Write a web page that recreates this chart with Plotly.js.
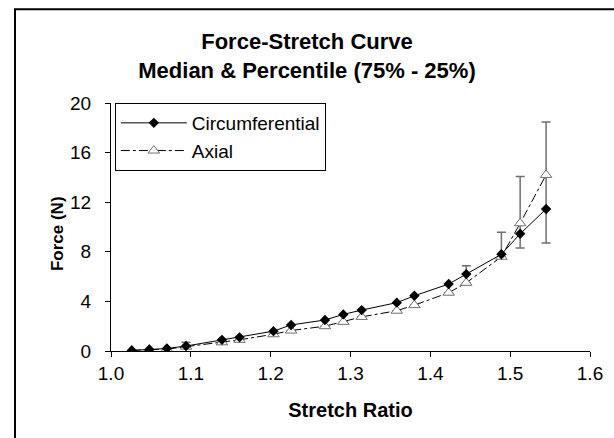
<!DOCTYPE html>
<html>
<head>
<meta charset="utf-8">
<script src="https://cdn.plot.ly/plotly-3.0.1.min.js"></script>
<style>html,body{margin:0;padding:0;background:#fff;}#chart{width:614px;height:438px;}</style>
</head>
<body>
<div id="chart"></div>
<script>
// Stretch ratio (shared by both series)
const stretch = [1.026, 1.048, 1.070, 1.094, 1.139, 1.161, 1.2035, 1.2256, 1.268, 1.291, 1.314, 1.358, 1.380, 1.423, 1.445, 1.489, 1.5125, 1.545];
// Median force (N)
const circForce = [0.05, 0.12, 0.2, 0.4, 0.9, 1.1, 1.6, 2.1, 2.5, 2.95, 3.3, 3.9, 4.45, 5.4, 6.2, 7.8, 9.45, 11.45];
const axialForce = [0.05, 0.1, 0.15, 0.35, 0.7, 0.9, 1.35, 1.65, 2.0, 2.35, 2.75, 3.25, 3.7, 4.7, 5.5, 7.6, 10.3, 14.2];
// Percentile spread (75% above, 25% below) drawn as error bars
const spreadPlus = [0, 0, 0, 0.36, 0, 0, 0, 0, 0, 0, 0, 0, 0, 0, 1.38, 1.97, 3.77, 4.27];
const spreadMinus = [0, 0, 0, 0, 0, 0, 0, 0, 0, 0, 0, 0, 0, 0, 0, 0, 1.99, 5.49];

const seriesNames = ['Circumferential', 'Axial'];

const font = 'Liberation Sans, Arial, sans-serif';

const traces = [
  {
    x: stretch, y: axialForce, name: seriesNames[1], type: 'scatter', mode: 'lines+markers',
    line: {color: '#000', width: 1, dash: 'dashdot'},
    marker: {symbol: 'triangle-up', size: 10, color: '#fff', line: {width: 1, color: '#707070'}},
    error_y: {type: 'data', symmetric: false, array: spreadPlus, arrayminus: spreadMinus,
      color: '#707070', thickness: 1.5, width: 4.5},
    showlegend: false
  },
  {
    x: stretch, y: circForce, name: seriesNames[0], type: 'scatter', mode: 'lines+markers',
    line: {color: '#000', width: 1},
    marker: {symbol: 'diamond', size: 8, color: '#000'}
  },
  {
    x: [null], y: [null], name: seriesNames[1], type: 'scatter', mode: 'lines+markers',
    line: {color: '#000', width: 1, dash: 'dashdot'},
    marker: {symbol: 'triangle-up', size: 10, color: '#fff', line: {width: 1, color: '#707070'}}
  }
];

const layout = {
  width: 614, height: 438,
  margin: {l: 111, r: 24, t: 103, b: 86.5},
  paper_bgcolor: '#fff', plot_bgcolor: '#fff',
  font: {family: font, color: '#000'},
  title: {
    text: '<b>Force-Stretch Curve<br>Median &amp; Percentile (75% - 25%)</b>',
    font: {family: font, size: 22, color: '#000'},
    xref: 'container', x: 0.5, xanchor: 'center',
    yref: 'container', y: 0.888, yanchor: 'middle'
  },
  xaxis: {
    range: [1.0, 1.6], dtick: 0.1, tick0: 1.0, tickformat: '.1f',
    showgrid: false, zeroline: false,
    showline: true, linecolor: '#000', linewidth: 1,
    ticks: 'outside', ticklen: 5, tickcolor: '#000', tickwidth: 1,
    tickfont: {family: font, size: 19, color: '#000'},
    title: {text: '<b>Stretch Ratio</b>', font: {family: font, size: 20, color: '#000'}, standoff: 20}
  },
  yaxis: {
    range: [0, 20], dtick: 4, tick0: 0,
    showgrid: false, zeroline: false,
    showline: true, linecolor: '#000', linewidth: 1,
    ticks: 'outside', ticklen: 5, tickcolor: '#000', tickwidth: 1,
    ticklabelstandoff: 10,
    tickfont: {family: font, size: 19, color: '#000'}
  },
  annotations: [{
    text: '<b>Force (N)</b>', textangle: -90, showarrow: false,
    xref: 'paper', yref: 'paper', x: -0.113, y: 0.475,
    xanchor: 'center', yanchor: 'middle',
    font: {family: font, size: 17, color: '#000'}
  }],
  legend: {
    x: 0.008, y: 1, xanchor: 'left', yanchor: 'top',
    bgcolor: '#fff', bordercolor: '#000', borderwidth: 1,
    font: {family: font, size: 19, color: '#000'},
    traceorder: 'normal', tracegroupgap: 0, itemwidth: 66
  },
  shapes: [{
    type: 'path', xref: 'paper', yref: 'paper',
    path: 'M -0.2004 -0.36 L -0.2004 1.378 L 1.06 1.378',
    line: {color: '#000', width: 2}
  }]
};

Plotly.newPlot('chart', traces, layout, {displayModeBar: false, staticPlot: true});
</script>
</body>
</html>
